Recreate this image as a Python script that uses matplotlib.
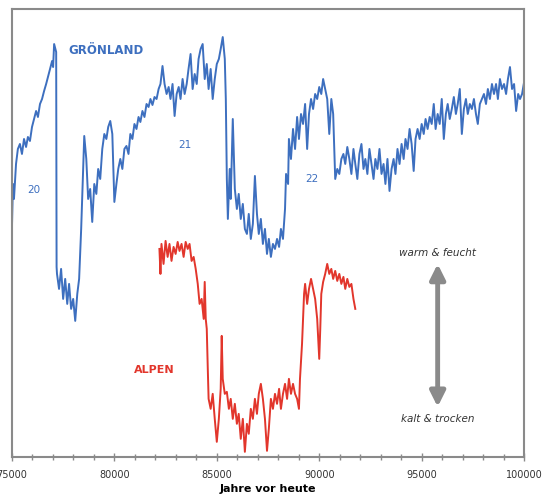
import matplotlib.pyplot as plt
from matplotlib.ticker import MultipleLocator

# Greenland ice-core record (years before present, relative proxy value)
gr_years = [74950, 75000, 75050, 75100, 75200, 75290, 75390, 75490, 75590, 75690,
            75780, 75880, 75980, 76080, 76180, 76270, 76370, 76470, 76570, 76670,
            76760, 76860, 76960, 77010, 77060, 77160, 77180, 77200, 77300, 77400,
            77500, 77600, 77700, 77790, 77890, 77990, 78090, 78190, 78280, 78380,
            78530, 78630, 78720, 78820, 78920, 79020, 79120, 79210, 79310, 79410,
            79510, 79610, 79700, 79800, 79900, 80000, 80100, 80190, 80290, 80390,
            80490, 80590, 80690, 80780, 80880, 80980, 81080, 81180, 81270, 81370,
            81470, 81570, 81670, 81760, 81860, 81960, 82060, 82160, 82250, 82350,
            82450, 82550, 82650, 82740, 82840, 82940, 83040, 83140, 83230, 83330,
            83430, 83530, 83620, 83720, 83820, 83920, 84020, 84110, 84210, 84310,
            84410, 84510, 84600, 84700, 84800, 84900, 85000, 85100, 85190, 85290,
            85390, 85440, 85490, 85540, 85630, 85680, 85780, 85880, 85980, 86070,
            86170, 86270, 86370, 86470, 86560, 86660, 86760, 86860, 86960, 87050,
            87150, 87250, 87350, 87450, 87540, 87640, 87740, 87840, 87940, 88040,
            88130, 88230, 88330, 88380, 88480, 88520, 88620, 88720, 88820, 88920,
            89010, 89110, 89210, 89310, 89410, 89500, 89600, 89700, 89800, 89900,
            90000, 90100, 90190, 90290, 90390, 90490, 90590, 90680, 90780, 90880,
            90980, 91080, 91180, 91270, 91370, 91470, 91570, 91670, 91760, 91860,
            91960, 92060, 92160, 92250, 92350, 92450, 92550, 92650, 92740, 92840,
            92940, 93040, 93140, 93230, 93330, 93430, 93530, 93630, 93720, 93820,
            93920, 94020, 94120, 94210, 94310, 94410, 94510, 94610, 94700, 94800,
            94900, 95000, 95100, 95190, 95290, 95390, 95490, 95590, 95680, 95780,
            95880, 95980, 96080, 96180, 96270, 96370, 96470, 96570, 96670, 96760,
            96860, 96960, 97060, 97160, 97250, 97350, 97450, 97550, 97650, 97740,
            97840, 97940, 98040, 98140, 98230, 98330, 98430, 98530, 98630, 98720,
            98820, 98920, 99020, 99120, 99210, 99310, 99410, 99510, 99610, 99710,
            99800, 99900, 100000]
gr_vals = [243, 228, 273, 258, 293, 308, 313, 303, 318, 310,
           320, 316, 330, 338, 346, 340, 353, 358, 366, 373,
           380, 388, 396, 390, 413, 405, 190, 183, 168, 188,
           158, 178, 153, 173, 148, 158, 136, 163, 178, 228,
           321, 298, 258, 268, 235, 273, 263, 288, 278, 308,
           323, 318, 330, 336, 323, 255, 273, 288, 298, 288,
           308, 311, 303, 323, 318, 333, 328, 340, 335, 346,
           340, 353, 350, 358, 352, 360, 358, 368, 373, 391,
           373, 363, 370, 358, 373, 341, 363, 370, 358, 378,
           363, 373, 388, 403, 368, 383, 373, 398, 408, 413,
           378, 393, 368, 388, 358, 378, 393, 398, 408, 420,
           398, 358, 278, 238, 288, 258, 338, 268, 248, 263,
           238, 253, 228, 223, 243, 218, 233, 281, 243, 223,
           238, 213, 228, 203, 218, 200, 213, 208, 218, 210,
           228, 218, 248, 283, 273, 318, 298, 328, 308, 340,
           318, 343, 333, 353, 308, 343, 358, 348, 363, 358,
           370, 363, 378, 368, 358, 323, 358, 343, 278, 288,
           283, 298, 303, 293, 310, 298, 283, 308, 293, 278,
           303, 313, 288, 298, 283, 308, 293, 278, 298, 288,
           308, 283, 293, 273, 298, 266, 288, 298, 283, 308,
           293, 313, 298, 318, 308, 328, 313, 286, 318, 328,
           318, 333, 323, 338, 328, 340, 333, 353, 328, 343,
           333, 358, 318, 343, 353, 338, 348, 360, 343, 353,
           368, 323, 348, 358, 343, 353, 348, 358, 343, 333,
           353, 358, 363, 353, 368, 358, 373, 363, 373, 358,
           378, 368, 373, 363, 378, 390, 368, 373, 346, 363,
           358, 363, 375]

# Alpine speleothem record
al_years = [82200, 82250, 82300, 82400, 82500, 82600, 82690, 82790, 82890, 82990,
            83090, 83180, 83280, 83380, 83480, 83580, 83670, 83770, 83870, 83970,
            84070, 84160, 84260, 84360, 84410, 84460, 84510, 84560, 84600, 84700,
            84800, 84900, 85000, 85100, 85190, 85240, 85290, 85390, 85490, 85590,
            85680, 85780, 85880, 85980, 86070, 86170, 86270, 86370, 86470, 86560,
            86660, 86760, 86860, 86960, 87050, 87150, 87250, 87350, 87450, 87540,
            87640, 87740, 87840, 87940, 88040, 88130, 88230, 88330, 88430, 88520,
            88620, 88720, 88820, 88920, 89010, 89060, 89160, 89260, 89310, 89410,
            89500, 89600, 89700, 89800, 89900, 90000, 90050, 90100, 90190, 90290,
            90390, 90490, 90590, 90680, 90780, 90880, 90980, 91080, 91180, 91270,
            91370, 91470, 91570, 91670, 91760]
al_vals = [208, 183, 213, 193, 216, 200, 213, 196, 210, 203,
           215, 206, 213, 200, 215, 208, 213, 196, 200, 188,
           173, 153, 158, 138, 175, 138, 128, 88, 58, 48,
           63, 38, 15, 38, 68, 121, 78, 63, 65, 48,
           58, 38, 53, 33, 43, 18, 38, 5, 33, 23,
           48, 38, 58, 43, 63, 73, 58, 38, 6, 28,
           58, 48, 63, 53, 68, 48, 63, 73, 58, 78,
           63, 73, 63, 58, 48, 78, 113, 163, 173, 153,
           168, 178, 168, 158, 138, 98, 128, 163, 175, 183,
           193, 183, 188, 178, 186, 176, 183, 173, 180, 168,
           178, 170, 173, 158, 148]

BLUE = "#3d6fbf"
RED = "#e2362c"
GRAY = "#8a8a8a"

fig = plt.figure(figsize=(5.42, 5.02), dpi=100)
ax = fig.add_axes([0.022, 0.088, 0.945, 0.892])

ax.plot(gr_years, gr_vals, color=BLUE, lw=1.4)
ax.plot(al_years, al_vals, color=RED, lw=1.4)

ax.set_xlim(75000, 100000)
ax.set_ylim(0, 448)
ax.xaxis.set_major_locator(MultipleLocator(5000))
ax.xaxis.set_minor_locator(MultipleLocator(1000))
ax.tick_params(axis="x", which="major", direction="inout", length=6, width=1,
               color=GRAY, labelsize=7, labelcolor="#333333", pad=6)
ax.tick_params(axis="x", which="minor", direction="inout", length=4, width=1, color=GRAY)
ax.set_yticks([])
for s in ax.spines.values():
    s.set_color(GRAY)
    s.set_linewidth(1.5)

# labels
ax.text(79600, 408, "GRÖNLAND", color=BLUE, fontsize=8.5, fontweight="bold",
        ha="center", va="center")
ax.text(76080, 268, "20", color=BLUE, fontsize=7.5, ha="center", va="center")
ax.text(83430, 313, "21", color=BLUE, fontsize=7.5, ha="center", va="center")
ax.text(89650, 279, "22", color=BLUE, fontsize=7.5, ha="center", va="center")
ax.text(81960, 88, "ALPEN", color=RED, fontsize=8, fontweight="bold",
        ha="center", va="center")

ax.text(95780, 205, "warm & feucht", fontsize=7.5, style="italic", color="#333333",
        ha="center", va="center")
ax.text(95780, 39, "kalt & trocken", fontsize=7.5, style="italic", color="#333333",
        ha="center", va="center")
ax.annotate("", xy=(95780, 193), xytext=(95780, 50),
            arrowprops=dict(arrowstyle="<|-|>,head_length=0.9,head_width=0.45",
                            color=GRAY, lw=3.5, shrinkA=0, shrinkB=0))

ax.set_xlabel("Jahre vor heute", fontsize=8, fontweight="bold", labelpad=3)

fig.savefig("out.png", dpi=100)
